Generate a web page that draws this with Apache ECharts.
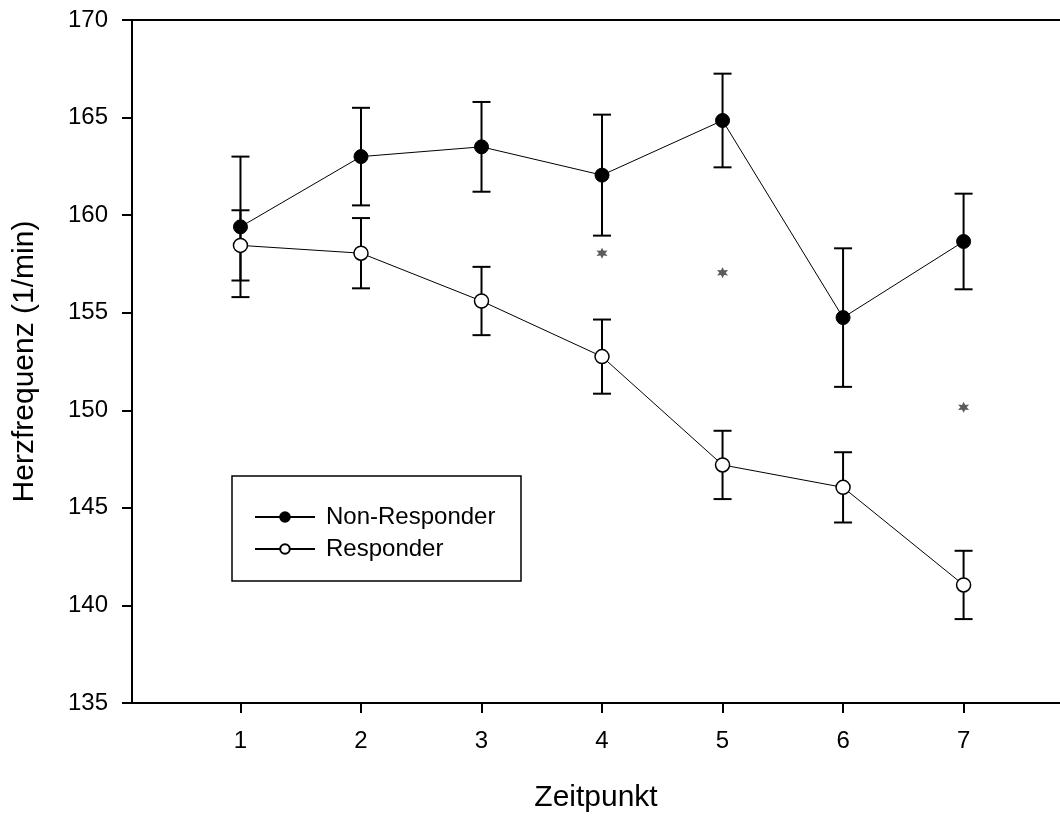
<!DOCTYPE html>
<html>
<head>
<meta charset="utf-8">
<script src="https://cdn.jsdelivr.net/npm/echarts@6/dist/echarts.min.js"></script>
<style>
html, body { margin: 0; padding: 0; background: #fff; }
#chart { width: 1060px; height: 818px; }
</style>
</head>
<body>
<div id="chart"></div>
<script>
var timepoints = [1, 2, 3, 4, 5, 6, 7];
var nonResponderMean = [159.4, 163.0, 163.5, 162.05, 164.85, 154.75, 158.65];
var nonResponderErr = [3.6, 2.5, 2.3, 3.1, 2.4, 3.55, 2.45];
var responderMean = [158.45, 158.05, 155.6, 152.75, 147.2, 146.05, 141.05];
var responderErr = [1.8, 1.8, 1.75, 1.9, 1.75, 1.8, 1.75];
var starX = [4, 5, 7];
var starY = [158.05, 157.05, 150.15];

var font = "'Liberation Sans', Arial, sans-serif";

function pairs(xs, ys) {
    return xs.map(function (x, i) { return [x, ys[i]]; });
}

function errorData(mean, err) {
    return timepoints.map(function (t, i) {
        return [t, mean[i] - err[i], mean[i] + err[i]];
    });
}

function renderErrorBar(params, api) {
    var x = api.value(0);
    var lo = api.coord([x, api.value(1)]);
    var hi = api.coord([x, api.value(2)]);
    var hw = 9;
    var style = { stroke: '#000', lineWidth: 2, fill: null };
    return {
        type: 'group',
        children: [
            { type: 'line', shape: { x1: hi[0], y1: hi[1], x2: lo[0], y2: lo[1] }, style: style },
            { type: 'line', shape: { x1: hi[0] - hw, y1: hi[1], x2: hi[0] + hw, y2: hi[1] }, style: style },
            { type: 'line', shape: { x1: lo[0] - hw, y1: lo[1], x2: lo[0] + hw, y2: lo[1] }, style: style }
        ]
    };
}

// small six-pointed asterisk
function starPath() {
    var pts = [];
    for (var k = 0; k < 12; k++) {
        var r = k % 2 === 0 ? 10 : 5;
        var a = Math.PI / 2 + k * Math.PI / 6;
        pts.push((10 + r * Math.cos(a)).toFixed(2) + ',' + (10 - r * Math.sin(a)).toFixed(2));
    }
    return 'path://M' + pts.join(' L') + ' Z';
}

var myChart = echarts.init(document.getElementById('chart'));

var option = {
    animation: false,
    backgroundColor: '#fff',
    grid: { left: 132, right: 0, top: 20, bottom: 115, containLabel: false, outerBoundsMode: 'none' },
    legend: {
        orient: 'vertical',
        left: 249,
        top: 500,
        itemWidth: 60,
        itemHeight: 12,
        itemGap: 8,
        data: ['Non-Responder', 'Responder'],
        textStyle: { fontFamily: font, fontSize: 24, lineHeight: 24, color: '#000', padding: [0, 0, 0, 6] }
    },
    graphic: [{
        type: 'rect',
        shape: { x: 232, y: 476, width: 289, height: 105 },
        style: { fill: null, stroke: '#000', lineWidth: 1.5 },
        z: 10
    }],
    xAxis: [{
        type: 'value',
        min: 0.1,
        max: 7.8,
        name: 'Zeitpunkt',
        nameLocation: 'middle',
        nameGap: 80,
        nameTextStyle: { fontFamily: font, fontSize: 30, color: '#000' },
        axisLine: { show: true, lineStyle: { color: '#000', width: 2 } },
        axisTick: { show: true, length: 10, lineStyle: { color: '#000', width: 2 }, customValues: timepoints },
        axisLabel: { fontFamily: font, fontSize: 24, color: '#000', margin: 26, customValues: timepoints },
        splitLine: { show: false }
    }, {
        type: 'value',
        position: 'top',
        min: 0.1,
        max: 7.8,
        axisLine: { show: true, lineStyle: { color: '#000', width: 2 } },
        axisTick: { show: false },
        axisLabel: { show: false },
        splitLine: { show: false }
    }],
    yAxis: {
        type: 'value',
        min: 135,
        max: 170,
        interval: 5,
        name: 'Herzfrequenz (1/min)',
        nameLocation: 'middle',
        nameGap: 92,
        nameTextStyle: { fontFamily: font, fontSize: 30, color: '#000' },
        axisLine: { show: true, lineStyle: { color: '#000', width: 2 } },
        axisTick: { show: true, length: 10, lineStyle: { color: '#000', width: 2 } },
        axisLabel: { fontFamily: font, fontSize: 24, color: '#000', margin: 24 },
        splitLine: { show: false }
    },
    series: [{
        type: 'custom',
        name: 'errNR',
        renderItem: renderErrorBar,
        data: errorData(nonResponderMean, nonResponderErr),
        z: 2
    }, {
        type: 'custom',
        name: 'errR',
        renderItem: renderErrorBar,
        data: errorData(responderMean, responderErr),
        z: 2
    }, {
        type: 'line',
        name: 'Non-Responder',
        data: pairs(timepoints, nonResponderMean),
        symbol: 'circle',
        symbolSize: 14,
        lineStyle: { color: '#000', width: 1 },
        itemStyle: { color: '#000', borderColor: '#000', borderWidth: 1 },
        z: 5
    }, {
        type: 'line',
        name: 'Responder',
        data: pairs(timepoints, responderMean),
        symbol: 'circle',
        symbolSize: 14,
        lineStyle: { color: '#000', width: 1 },
        itemStyle: { color: '#fff', borderColor: '#000', borderWidth: 1.5 },
        z: 5
    }, {
        type: 'scatter',
        name: 'stars',
        data: pairs(starX, starY),
        symbol: starPath(),
        symbolSize: 11,
        itemStyle: { color: '#333' },
        z: 4
    }]
};

myChart.setOption(option);
</script>
</body>
</html>
